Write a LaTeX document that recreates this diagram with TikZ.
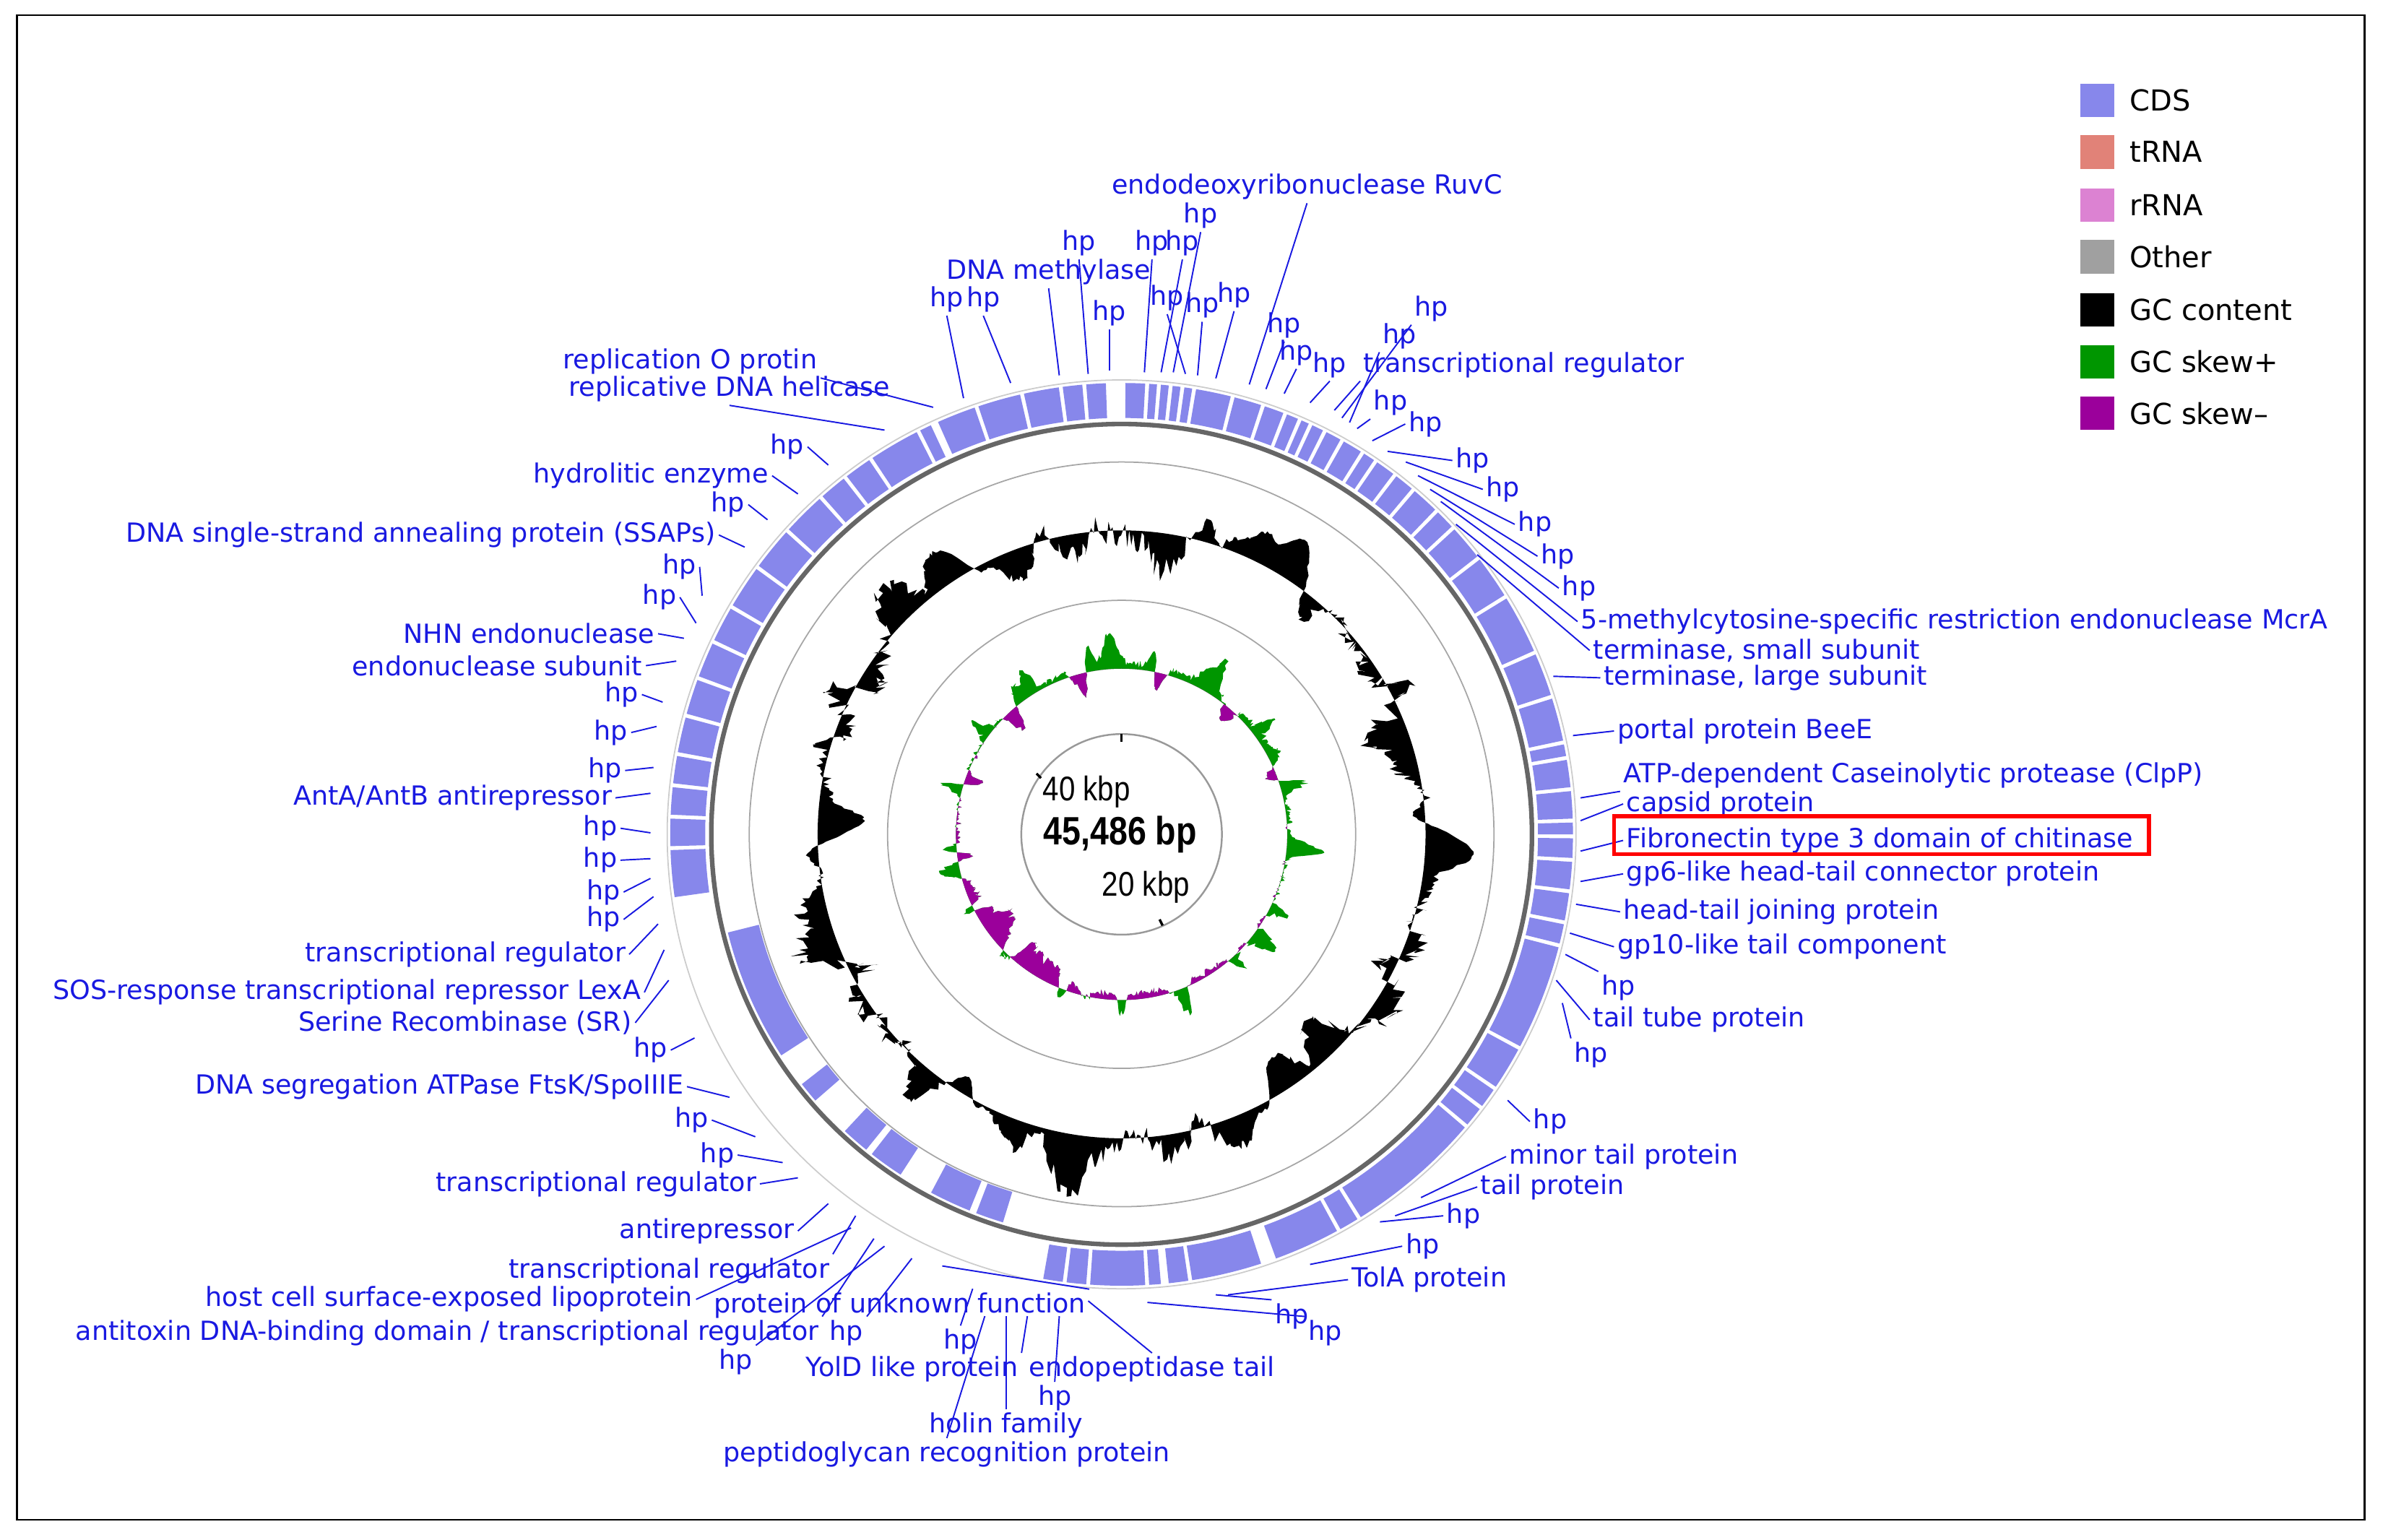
\documentclass[tikz,border=0pt]{standalone}
\usepackage{fontspec}
\setmainfont{DejaVu Sans}
\newfontfamily\nar{Liberation Sans}[FakeStretch=0.85]
\begin{document}
\definecolor{cdsc}{RGB}{135,135,235}
\definecolor{labc}{RGB}{25,25,225}
\definecolor{trna}{RGB}{225,130,120}
\definecolor{rrna}{RGB}{220,130,210}
\definecolor{oth}{RGB}{160,160,160}
\definecolor{gcp}{RGB}{0,150,0}
\definecolor{gcm}{RGB}{155,0,155}
\begin{tikzpicture}[x=0.02105cm,y=-0.02105cm,
 lab/.style={text=labc,font=\fontsize{10.4}{11}\selectfont,inner sep=1.2pt},
 ldr/.style={draw=labc,line width=0.55pt},
 leg/.style={font=\fontsize{11.4}{12}\selectfont,anchor=west,inner sep=0pt}]
\useasboundingbox (0,0) rectangle (1568,1013);
\draw[line width=0.8pt] (11,10) rectangle (1556,1000);
\newcommand\ringseg[4]{\fill[cdsc] ({#1-90}:#4) arc[start angle={#1-90},end angle={#2-90},radius=#4] -- ({#2-90}:#3) arc[start angle={#2-90},end angle={#1-90},radius=#3] -- cycle;}
\newcommand\lb[6]{\node[lab,anchor=#3] (#1) at (#2) {#4}; \coordinate (#1e) at (#6); \draw[ldr] (#1.#5) -- (#1e);}
\newcommand\skewf[1]{109+4*cos(#1+70)+20*max(0,sin(11*#1+40))^6*(0.6+0.4*sin(3*#1))+14*max(0,sin(17*#1))^8-18*max(0,sin(13*#1+10))^6*(0.5-0.5*sin(#1+20))-16*exp(-((#1-135)/20)^2)*(0.6+0.4*abs(sin(40*#1)))+3*rand*abs(sin(29*#1))}
\begin{scope}[shift={(738,549)}]
 \draw[gray!40,line width=0.5pt] (0,0) circle[radius=299];
 \foreach \a/\b in {262/268,268.5/272,272.5/276,276.5/280,280.5/285,285.5/290,290.5/295,295.5/300,300.5/306,306.5/312,312.5/318,318.5/322,322.5/326,326.5/333,333.5/335,336/341,341.5/347,347.5/352,352.5/355,355.5/358,360.5/363,363.5/364.5,365/366,366.5/367.5,368/369,369.5/374,374.5/378,378.5/381,381.5/383,383.5/384.5,385/386.5,387/389,389.5/392,392.5/394,394.5/397,397.5/400,400.5/404,404.5/407,407.5/412,412.5/418,418.5/426,426.5/432,432.5/438,438.5/440,440.5/444,444.5/448,448.5/450,450.5/453,453.5/457,457.5/461,461.5/464,464.5/478,478.5/484,484.5/487,487.5/490,490.5/508,508.5/511,511.5/520,522/531,531.5/534,535/536.5,537/544,544.5/547,547.5/550}
  {\ringseg{\a}{\b}{274}{297}}
 \foreach \a/\b in {197/201,202/208,213/218,219/223,229/232,237/256}
  {\ringseg{\a}{\b}{246}{267}}
 \draw[gray!80!black,line width=1.8pt] (0,0) circle[radius=270];
 \draw[gray!70,line width=0.5pt] (0,0) circle[radius=245];
 \draw[gray!70,line width=0.5pt] (0,0) circle[radius=154];
 \draw[gray!80,line width=0.7pt] (0,0) circle[radius=66];
 % GC content
 \pgfmathsetseed{7}
 \fill[black,even odd rule] plot[domain=0:360,samples=900] (\x:{200+12*sin(5*\x+30)+10*sin(11*\x+70)+10*sin(23*\x)*abs(sin(23*\x))+6*sin(37*\x+10)+8*rand*abs(sin(3*\x))+ 22*max(0,sin(\x-30))*max(0,sin(4*\x))}) -- cycle (0,0) circle[radius=200];
 % GC skew
 \pgfmathsetseed{11}
 \fill[gcp,even odd rule] plot[domain=0:360,samples=900] (\x:{\skewf{\x}}) -- cycle (0,0) circle[radius=109];
 \begin{scope}
 \clip (0,0) circle[radius=109];
 \pgfmathsetseed{11}
 \fill[gcm,even odd rule] plot[domain=0:360,samples=900] (\x:{\skewf{\x}}) -- cycle (0,0) circle[radius=109];
 \end{scope}
 \draw[line width=1pt] (0,-66) -- (0,-61);
 \draw[line width=1pt] (-56,-40) -- (-53,-37);
 \draw[line width=1pt] (27,60) -- (25,56);
 \node[font=\nar\fontsize{13.5}{14}\selectfont] (k40) at (-23,-28) {40 kbp};
 \node[font=\nar\bfseries\fontsize{15.6}{16}\selectfont] (tot) at (-1,0) {45,486 bp};
 \node[font=\nar\fontsize{13.5}{14}\selectfont] (k20) at (16,35) {20 kbp};
\end{scope}
% top labels
\lb{t1}{623,197}{center}{hp}{south}{634,262}
\lb{t2}{647,197}{center}{hp}{south}{665,252}
\lb{t3}{690,179}{center}{DNA methylase}{south}{697,247}
\lb{t4}{710,160}{center}{hp}{south}{716,246}
\lb{t5}{730,206}{center}{hp}{south}{730,244}
\lb{t6}{758,160}{center}{hp}{south}{753,245}
\lb{t7}{778,160}{center}{hp}{south}{764,245}
\lb{t8}{790,142}{center}{hp}{south}{772,245}
\lb{t9}{768,196}{center}{hp}{south}{780,246}
\lb{t10}{791,201}{center}{hp}{south}{788,247}
\lb{t11}{812,194}{center}{hp}{south}{800,249}
\lb{t12}{860,123}{center}{endodeoxyribonuclease RuvC}{south}{822,253}
\lb{t13}{845,214}{center}{hp}{south}{833,256}
\lb{t14}{853,232}{center}{hp}{south}{845,259}
\lb{t15}{875,240}{center}{hp}{south}{862,265}
\lb{t16}{895,240}{west}{transcriptional regulator}{south west}{878,270}
\lb{t17}{942,203}{center}{hp}{south west}{883,275}
\lb{t18}{921,221}{center}{hp}{south west}{888,278}
\lb{t19}{915,265}{center}{hp}{south west}{893,282}
\lb{t20}{938,279}{center}{hp}{west}{903,290}
% right labels
\lb{r1}{969,303}{center}{hp}{west}{913,297}
\lb{r2}{989,322}{center}{hp}{west}{925,304}
\lb{r3}{1010,345}{center}{hp}{west}{933,313}
\lb{r4}{1025,366}{center}{hp}{west}{941,322}
\lb{r5}{1039,387}{center}{hp}{west}{948,330}
\lb{r6}{1038,409}{west}{5-methylcytosine-specific restriction endonuclease McrA}{west}{958,345}
\lb{r7}{1046,428}{west}{terminase, small subunit}{west}{972,365}
\lb{r8}{1053,446}{west}{terminase, large subunit}{west}{1022,445}
\lb{r9}{1062,481}{west}{portal protein BeeE}{west}{1035,484}
\lb{r10}{1066,510}{west}{ATP-dependent Caseinolytic protease (ClpP)}{south west}{1040,525}
\lb{r11}{1068,529}{west}{capsid protein}{west}{1040,540}
\lb{r12}{1068,553}{west}{Fibronectin type 3 domain of chitinase}{west}{1040,560}
\lb{r13}{1068,575}{west}{gp6-like head-tail connector protein}{west}{1040,580}
\lb{r14}{1066,600}{west}{head-tail joining protein}{west}{1037,595}
\lb{r15}{1062,623}{west}{gp10-like tail component}{west}{1033,614}
\lb{r16}{1065,650}{center}{hp}{north west}{1030,628}
\lb{r17}{1046,671}{west}{tail tube protein}{west}{1024,645}
\lb{r18}{1047,694}{center}{hp}{north west}{1028,660}
\lb{r19}{1020,738}{center}{hp}{west}{992,724}
\lb{r20}{991,761}{west}{minor tail protein}{west}{935,788}
\lb{r21}{972,781}{west}{tail protein}{west}{918,800}
\lb{r22}{963,800}{center}{hp}{west}{908,804}
\lb{r23}{936,820}{center}{hp}{west}{862,832}
\lb{r24}{887,842}{west}{TolA protein}{west}{808,852}
\draw[red,line width=1.6pt] (1062,537) rectangle (1414,562);
% bottom labels
\lb{b1}{850,866}{center}{hp}{north west}{800,852}
\lb{b2}{872,877}{center}{hp}{north west}{755,857}
\lb{b3}{758,901}{center}{endopeptidase tail}{north}{716,856}
\lb{b4}{694,920}{center}{hp}{north}{697,866}
\lb{b5}{600,901}{center}{YolD like protein}{north east}{676,866}
\lb{b6}{662,938}{center}{holin family}{north}{662,866}
\lb{b7}{623,957}{center}{peptidoglycan recognition protein}{north}{648,866}
\lb{b8}{632,883}{center}{hp}{north}{640,848}
\lb{b9}{592,859}{center}{protein of unknown function}{north east}{620,833}
\lb{b10}{557,877}{center}{hp}{north east}{600,828}
\lb{b11}{484,896}{center}{hp}{north east}{582,820}
% left labels
\lb{l1}{541,877}{east}{antitoxin DNA-binding domain / transcriptional regulator}{north east}{575,815}
\lb{l2}{458,855}{east}{host cell surface-exposed lipoprotein}{east}{560,808}
\lb{l3}{548,836}{east}{transcriptional regulator}{north east}{563,800}
\lb{l4}{525,810}{east}{antirepressor}{east}{545,792}
\lb{l5}{500,779}{east}{transcriptional regulator}{east}{525,775}
\lb{l6}{472,760}{center}{hp}{east}{515,765}
\lb{l7}{455,737}{center}{hp}{east}{497,748}
\lb{l8}{452,715}{east}{DNA segregation ATPase FtsK/SpoIIIE}{east}{480,722}
\lb{l9}{428,691}{center}{hp}{east}{457,683}
\lb{l10}{418,673}{east}{Serine Recombinase (SR)}{east}{440,645}
\lb{l11}{424,653}{east}{SOS-response transcriptional repressor LexA}{east}{437,625}
\lb{l12}{414,628}{east}{transcriptional regulator}{east}{433,608}
\lb{l13}{397,605}{center}{hp}{east}{430,590}
\lb{l14}{397,587}{center}{hp}{east}{428,578}
\lb{l15}{395,566}{center}{hp}{east}{428,565}
\lb{l16}{395,545}{center}{hp}{east}{428,548}
\lb{l17}{405,525}{east}{AntA/AntB antirepressor}{east}{428,522}
\lb{l18}{398,507}{center}{hp}{east}{430,505}
\lb{l19}{402,482}{center}{hp}{east}{432,478}
\lb{l20}{409,457}{center}{hp}{east}{436,462}
\lb{l21}{425,438}{east}{endonuclease subunit}{east}{445,435}
\lb{l22}{433,417}{east}{NHN endonuclease}{east}{450,420}
\lb{l23}{434,393}{center}{hp}{east}{458,410}
\lb{l24}{447,373}{center}{hp}{east}{462,392}
\lb{l25}{473,352}{east}{DNA single-strand annealing protein (SSAPs)}{east}{490,360}
\lb{l26}{479,332}{center}{hp}{east}{505,342}
\lb{l27}{508,313}{east}{hydrolitic enzyme}{east}{525,325}
\lb{l28}{518,294}{center}{hp}{east}{545,306}
\lb{l29}{588,256}{east}{replicative DNA helicase}{south}{582,283}
\lb{l30}{540,238}{east}{replication O protin}{south east}{614,268}
% legend
\foreach \c/\t/\yy [count=\i] in {cdsc/CDS/66,trna/tRNA/100,rrna/rRNA/135,oth/Other/169,black/GC content/204,gcp/GC skew+/238,gcm/GC skew\textendash/272}{
 \fill[\c] (1369,\yy-11) rectangle (1391,\yy+11);
 \node[leg] (lg\i) at (1401,\yy) {\t};}
\end{tikzpicture}
\end{document}
